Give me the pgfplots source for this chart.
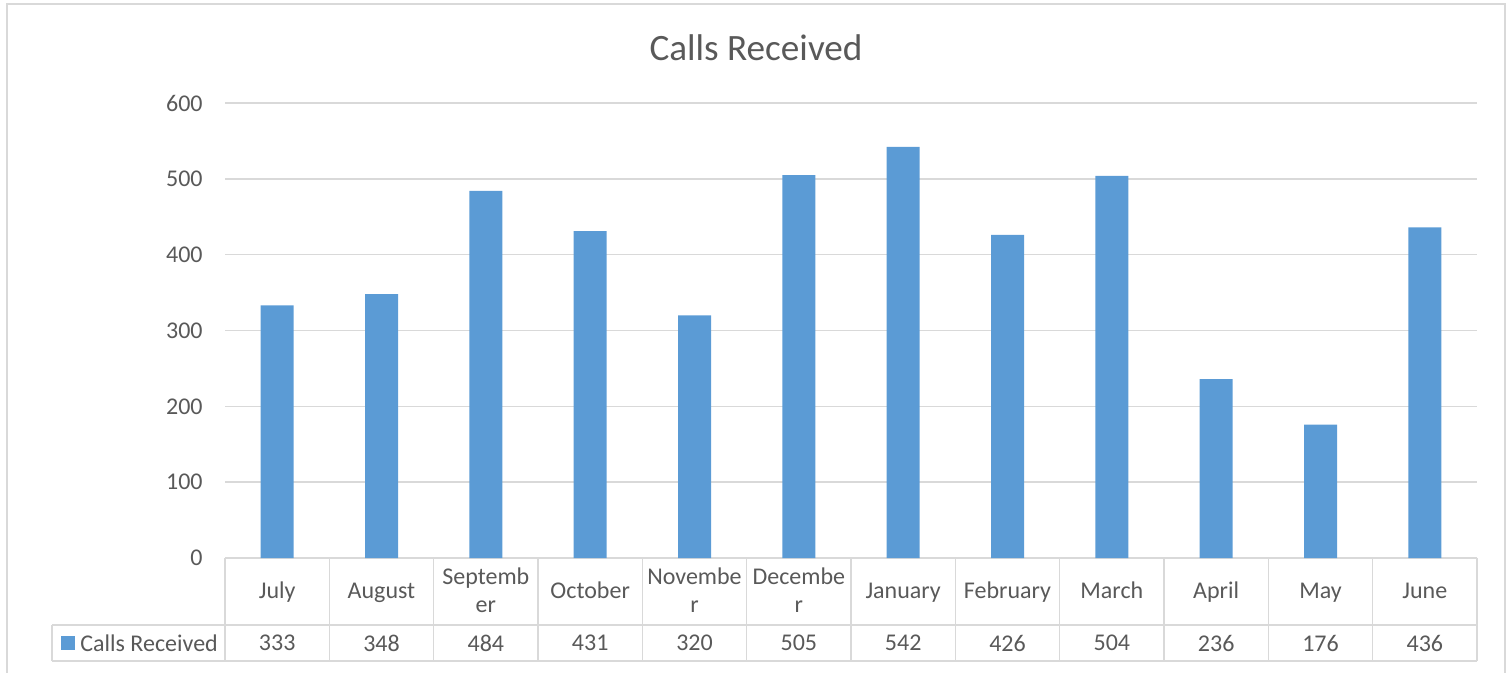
\documentclass[border=0pt]{standalone}
\usepackage{fontspec}
\setmainfont{Carlito}
\usepackage{pgfplots}
\pgfplotsset{compat=1.18}
\usepackage{pgfplotstable}

\definecolor{barblue}{HTML}{5B9BD5}
\definecolor{txt}{HTML}{595959}
\definecolor{grd}{HTML}{D9D9D9}

% one row per month, idx is the position on the x axis
\pgfplotstableread{
idx calls
0   333
1   348
2   484
3   431
4   320
5   505
6   542
7   426
8   504
9   236
10  176
11  436
}\calls

\tikzset{cellfont/.style={font=\fontsize{12}{14}\selectfont, text=txt}}

\begin{document}
\begin{tikzpicture}
\useasboundingbox (0,0) rectangle (753.5pt,-336.5pt);

% frame and data table lines (1 unit = 1 px of the reference)
\begin{scope}[x=0.5pt, y=-0.5pt, draw=grd, line width=0.75pt]
  \draw (7,4) rectangle (1505,700);
  \draw (225,558) -- (1477,558);
  \draw (52,625) -- (1477,625);
  \draw (52,661) -- (1477,661);
  \draw (52,625) -- (52,661);
  \foreach \k in {0,...,12}
    \draw ({225+\k*104.333},558) -- ({225+\k*104.333},661);
\end{scope}

\begin{axis}[
    at={(112.5pt,-279pt)}, anchor=south west,
    scale only axis,
    width=626pt, height=227.5pt,
    xmin=-0.5, xmax=11.5,
    ymin=0, ymax=600,
    ytick={0,100,...,600},
    xtick={0,...,11},
    xticklabels={\strut July,\strut August,{\strut Septemb\\\strut er},\strut October,{\strut Novembe\\\strut r},{\strut Decembe\\\strut r},\strut January,\strut February,\strut March,\strut April,\strut May,\strut June},
    xticklabel style={cellfont, align=center, anchor=center, inner sep=0pt, yshift=-17.2pt},
    yticklabel style={font=\fontsize{12}{14}\selectfont, text=txt, anchor=east, inner sep=0pt, xshift=-11pt},
    /pgf/number format/assume math mode=true,
    major tick length=0pt,
    axis line style={draw=none},
    ymajorgrids,
    grid style={grd, line width=0.75pt},
    clip=false,
]
\addplot[ybar, bar width=16.5pt, fill=barblue, draw=none] table[x=idx, y=calls] {\calls};
% value row of the data table
\pgfplotsinvokeforeach{0,...,11}{
  \pgfplotstablegetelem{#1}{calls}\of\calls
  \edef\tmp{\noexpand\node[cellfont] at (axis cs:#1,0) [yshift=-42.5pt] {\pgfplotsretval};}
  \tmp
}
\end{axis}

\node[text=txt, font=\fontsize{18.6}{21}\selectfont] at (378pt,-24pt) {Calls Received};
\fill[barblue] (30.5pt,-318pt) rectangle (37.5pt,-325pt);
\node[cellfont, anchor=west, inner sep=0pt] at (40pt,-321.5pt) {Calls Received};
\end{tikzpicture}
\end{document}
